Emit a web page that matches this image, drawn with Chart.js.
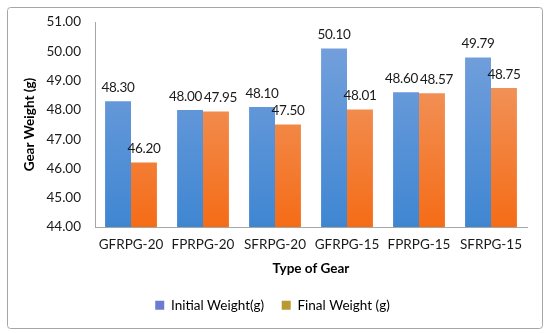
<!DOCTYPE html>
<html>
<head>
<meta charset="utf-8">
<script src="https://cdn.jsdelivr.net/npm/chart.js@4"></script>
<style>
  body { margin: 0; background: #fff; }
  #wrap { width: 550px; height: 333px; }
</style>
</head>
<body>
<div id="wrap"><canvas id="canvas" width="550" height="333"></canvas></div>
<script>
const gearTypes = ['GFRPG-20', 'FPRPG-20', 'SFRPG-20', 'GFRPG-15', 'FPRPG-15', 'SFRPG-15'];
const initialWeight = [48.30, 48.00, 48.10, 50.10, 48.60, 49.79];
const finalWeight = [46.20, 47.95, 47.50, 48.01, 48.57, 48.75];
const yMin = 44, yMax = 51;

const fontFam = 'Lato, "Open Sans", sans-serif';

function gradient(ctx, top, bottom) {
    const area = ctx.chart.chartArea;
    if (!area) return bottom;
    const g = ctx.chart.ctx.createLinearGradient(0, area.top, 0, area.bottom);
    g.addColorStop(0, top);
    g.addColorStop(1, bottom);
    return g;
}

// frame around the whole chart
const framePlugin = {
    id: 'frame',
    beforeDraw(chart) {
        const c = chart.ctx;
        c.save();
        c.fillStyle = '#fff';
        c.fillRect(0, 0, chart.width, chart.height);
        c.strokeStyle = '#a6a6a6';
        c.lineWidth = 1;
        c.beginPath();
        c.roundRect(7.5, 7.5, chart.width - 15, chart.height - 12, 3);
        c.stroke();
        c.restore();
    }
};

// value labels above the bars, nudged apart when the pair would collide
const valuePlugin = {
    id: 'values',
    afterDatasetsDraw(chart) {
        const c = chart.ctx;
        c.save();
        c.font = '13.5px ' + fontFam;
        c.letterSpacing = '-0.3px';
        c.fillStyle = '#1a1a1a';
        c.textAlign = 'center';
        c.textBaseline = 'bottom';
        const a = chart.getDatasetMeta(0).data;
        const b = chart.getDatasetMeta(1).data;
        gearTypes.forEach((_, j) => {
            const t0 = initialWeight[j].toFixed(2), t1 = finalWeight[j].toFixed(2);
            const w0 = c.measureText(t0).width, w1 = c.measureText(t1).width;
            let x0 = a[j].x, x1 = b[j].x;
            const overlap = (x0 + w0 / 2) - (x1 - w1 / 2) + 2;
            if (overlap > 0 && Math.abs(a[j].y - b[j].y) < 15) {
                x0 -= overlap / 2;
                x1 += overlap / 2;
            }
            c.fillText(t0, x0, a[j].y - 7);
            c.fillText(t1, x1, b[j].y - 7);
        });
        c.restore();
    }
};

new Chart('canvas', {
    type: 'bar',
    data: {
        labels: gearTypes,
        datasets: [
            {
                label: 'Initial Weight(g)',
                data: initialWeight,
                backgroundColor: ctx => gradient(ctx, '#7aa3dd', '#3f86d2'),
                borderWidth: 0
            },
            {
                label: 'Final Weight (g)',
                data: finalWeight,
                backgroundColor: ctx => gradient(ctx, '#efa275', '#f56c16'),
                borderWidth: 0
            }
        ]
    },
    options: {
        responsive: false,
        animation: false,
        layout: { padding: { left: 18, right: 23, top: 2, bottom: 11 } },
        categoryPercentage: 0.72,
        barPercentage: 1,
        scales: {
            x: {
                grid: { display: false, drawTicks: false },
                border: { color: '#a6a6a6' },
                ticks: { color: '#1a1a1a', font: { family: fontFam, size: 13.5 }, padding: 10,
                         maxRotation: 0, autoSkip: false },
                title: { display: true, text: 'Type of Gear', color: '#000', font: { family: fontFam, size: 13.5, weight: 'bold' }, padding: { top: 4 } },
                afterFit: s => { s.height = 54; }
            },
            y: {
                min: yMin,
                max: yMax,
                grid: { display: false, drawTicks: false },
                border: { color: '#a6a6a6' },
                ticks: { stepSize: 1, color: '#1a1a1a', font: { family: fontFam, size: 13.5 }, padding: 14,
                         callback: v => v.toFixed(2) },
                title: { display: true, text: 'Gear Weight (g)', color: '#000', font: { family: fontFam, size: 13.5, weight: 'bold' } },
                afterFit: s => { s.width = 77; }
            }
        },
        plugins: {
            legend: {
                position: 'bottom',
                labels: {
                    color: '#1a1a1a',
                    font: { family: fontFam, size: 13.5 },
                    boxWidth: 9,
                    boxHeight: 9,
                    padding: 17.5,
                    generateLabels: chart => chart.data.datasets.map((ds, i) => ({
                        text: ds.label,
                        fillStyle: ['#6b7bd0', '#b99a30'][i],
                        strokeStyle: 'transparent',
                        lineWidth: 0,
                        datasetIndex: i
                    }))
                }
            },
            tooltip: { enabled: false }
        }
    },
    plugins: [framePlugin, valuePlugin]
});
</script>
</body>
</html>
